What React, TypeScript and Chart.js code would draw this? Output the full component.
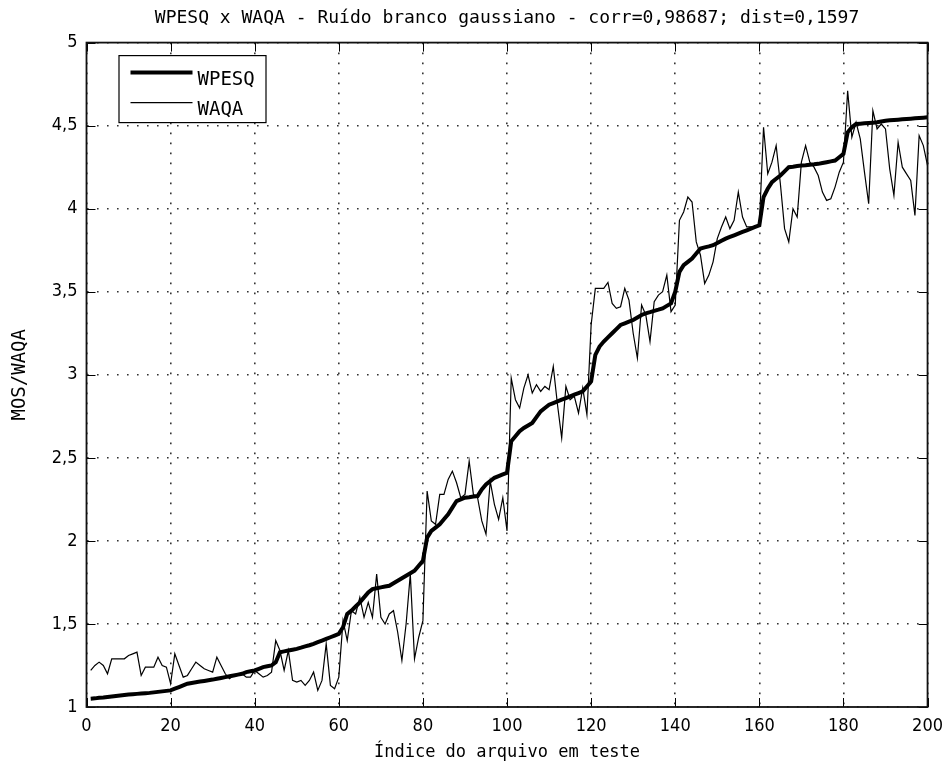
import React, { useEffect, useRef } from 'react';
import { Chart, registerables } from 'chart.js';

Chart.register(...registerables);

// Test file index (1..200) on the horizontal axis
const fileIndex: number[] = Array.from({ length: 200 }, (_, i) => i + 1);

// Objective WPESQ score per file (sorted by degradation level)
const wpesq: number[] = [
  1.05, 1.052, 1.055, 1.057, 1.06, 1.063, 1.066, 1.069, 1.072, 1.075,
  1.077, 1.079, 1.081, 1.083, 1.085, 1.088, 1.091, 1.094, 1.097, 1.1,
  1.11, 1.12, 1.13, 1.14, 1.145, 1.149, 1.153, 1.157, 1.161, 1.165,
  1.17, 1.175, 1.18, 1.185, 1.19, 1.195, 1.2, 1.21, 1.215, 1.22,
  1.23, 1.24, 1.245, 1.25, 1.27, 1.33, 1.335, 1.34, 1.345, 1.35,
  1.357, 1.365, 1.372, 1.38, 1.39, 1.4, 1.41, 1.42, 1.43, 1.44,
  1.48, 1.56, 1.58, 1.605, 1.63, 1.66, 1.69, 1.71, 1.715, 1.72,
  1.725, 1.73, 1.745, 1.76, 1.775, 1.79, 1.805, 1.82, 1.85, 1.88,
  2.02, 2.06, 2.08, 2.1, 2.13, 2.16, 2.2, 2.24, 2.25, 2.26,
  2.263, 2.267, 2.27, 2.31, 2.34, 2.36, 2.38, 2.39, 2.4, 2.41,
  2.6, 2.63, 2.66, 2.68, 2.695, 2.71, 2.745, 2.78, 2.8, 2.82,
  2.83, 2.84, 2.85, 2.86, 2.87, 2.88, 2.89, 2.9, 2.93, 2.96,
  3.12, 3.17, 3.2, 3.225, 3.25, 3.275, 3.3, 3.31, 3.32, 3.33,
  3.345, 3.36, 3.37, 3.377, 3.385, 3.392, 3.4, 3.415, 3.43, 3.5,
  3.62, 3.66, 3.68, 3.7, 3.73, 3.76, 3.767, 3.773, 3.78, 3.793,
  3.807, 3.82, 3.83, 3.84, 3.85, 3.86, 3.87, 3.88, 3.89, 3.9,
  4.07, 4.12, 4.16, 4.18, 4.2, 4.225, 4.25, 4.253, 4.257, 4.26,
  4.262, 4.265, 4.267, 4.27, 4.275, 4.28, 4.285, 4.29, 4.31, 4.33,
  4.46, 4.49, 4.51, 4.512, 4.514, 4.516, 4.518, 4.52, 4.525, 4.53,
  4.532, 4.534, 4.536, 4.538, 4.54, 4.542, 4.544, 4.546, 4.548, 4.55,
];

// WAQA estimate for the same files
const waqa: number[] = [
  1.22, 1.25, 1.27, 1.25, 1.2, 1.29, 1.29, 1.29, 1.29, 1.31,
  1.32, 1.33, 1.19, 1.24, 1.24, 1.24, 1.3, 1.25, 1.24, 1.14,
  1.32, 1.25, 1.18, 1.19, 1.23, 1.27, 1.25, 1.23, 1.22, 1.21,
  1.3, 1.25, 1.2, 1.17, 1.19, 1.19, 1.2, 1.18, 1.18, 1.22,
  1.2, 1.18, 1.19, 1.21, 1.4, 1.34, 1.22, 1.34, 1.16, 1.15,
  1.16, 1.13, 1.16, 1.21, 1.1, 1.16, 1.38, 1.13, 1.11, 1.18,
  1.52, 1.4, 1.58, 1.56, 1.66, 1.54, 1.63, 1.54, 1.8, 1.54,
  1.5, 1.56, 1.58, 1.45, 1.28, 1.5, 1.8, 1.29, 1.42, 1.52,
  2.3, 2.12, 2.1, 2.28, 2.28, 2.37, 2.42, 2.35, 2.26, 2.28,
  2.48, 2.28, 2.26, 2.12, 2.04, 2.36, 2.22, 2.13, 2.26, 2.06,
  2.98, 2.85, 2.8, 2.92, 3.0, 2.89, 2.94, 2.9, 2.93, 2.91,
  3.05, 2.82, 2.62, 2.93, 2.85, 2.87, 2.77, 2.92, 2.76, 3.3,
  3.52, 3.52, 3.52, 3.556, 3.43, 3.4, 3.41, 3.52, 3.45, 3.25,
  3.1, 3.42, 3.36, 3.2, 3.44, 3.48, 3.5, 3.6, 3.38, 3.42,
  3.93, 3.98, 4.07, 4.04, 3.8, 3.72, 3.55, 3.6, 3.68, 3.82,
  3.89, 3.95, 3.88, 3.93, 4.1, 3.95, 3.89, 3.89, 3.89, 3.9,
  4.49, 4.21, 4.28, 4.38, 4.15, 3.88, 3.8, 4.0, 3.95, 4.28,
  4.38, 4.28, 4.25, 4.2, 4.1, 4.05, 4.06, 4.13, 4.22, 4.28,
  4.71, 4.43, 4.52, 4.42, 4.22, 4.03, 4.59, 4.48, 4.51, 4.48,
  4.24, 4.08, 4.4, 4.25, 4.21, 4.17, 3.96, 4.44, 4.38, 4.26,
];

const xTickValues: number[] = [0, 20, 40, 60, 80, 100, 120, 140, 160, 180, 200];
const xTickLabels: string[] = ['0', '20', '40', '60', '80', '100', '120', '140', '160', '180', '200'];
const yTickValues: number[] = [1, 1.5, 2, 2.5, 3, 3.5, 4, 4.5, 5];
const yTickLabels: string[] = ['1', '1,5', '2', '2,5', '3', '3,5', '4', '4,5', '5'];

const chartTitle = 'WPESQ x WAQA - Ruído branco gaussiano - corr=0,98687; dist=0,1597';
const xTitle = 'Índice do arquivo em teste';
const yTitle = 'MOS/WAQA';

const MONO = "'DejaVu Sans Mono', 'Liberation Mono', monospace";
const NARROW = "'Liberation Sans Narrow', 'DejaVu Sans Condensed', 'DejaVu Sans Mono', monospace";
const TICK_LEN = 9;

// Box around the axes, inward tick marks on all four sides, and the legend
const axesFramePlugin = {
  id: 'axesFrame',
  afterDatasetsDraw(chart: any) {
    const { ctx, chartArea, scales } = chart;
    const { left, right, top, bottom } = chartArea;
    ctx.save();
    ctx.strokeStyle = '#000';
    ctx.lineWidth = 1;
    ctx.beginPath();
    for (const v of xTickValues) {
      const x = Math.round(scales.x.getPixelForValue(v)) + 0.5;
      ctx.moveTo(x, bottom);
      ctx.lineTo(x, bottom - TICK_LEN);
      ctx.moveTo(x, top);
      ctx.lineTo(x, top + TICK_LEN);
    }
    for (const v of yTickValues) {
      const y = Math.round(scales.y.getPixelForValue(v)) + 0.5;
      ctx.moveTo(left, y);
      ctx.lineTo(left + TICK_LEN, y);
      ctx.moveTo(right, y);
      ctx.lineTo(right - TICK_LEN, y);
    }
    ctx.stroke();
    ctx.lineWidth = 1.8;
    ctx.strokeStyle = '#111';
    ctx.strokeRect(left, top, right - left, bottom - top);

    // legend in the upper-left corner of the axes
    const bx = left + 32;
    const by = top + 12.5;
    const bw = 147;
    const bh = 67;
    ctx.fillStyle = '#fff';
    ctx.fillRect(bx, by, bw, bh);
    ctx.lineWidth = 1.2;
    ctx.strokeStyle = '#000';
    ctx.strokeRect(bx + 0.5, by + 0.5, bw, bh);
    const rows = [17.5, 47.5];
    chart.data.datasets.forEach((ds: any, i: number) => {
      const ly = by + rows[i];
      ctx.beginPath();
      ctx.lineWidth = ds.borderWidth;
      ctx.strokeStyle = ds.borderColor;
      ctx.moveTo(bx + 12, ly);
      ctx.lineTo(bx + 74, ly);
      ctx.stroke();
      ctx.fillStyle = '#000';
      ctx.font = `19px ${MONO}`;
      ctx.textAlign = 'left';
      ctx.textBaseline = 'middle';
      ctx.fillText(ds.label, bx + 79, ly + 7);
    });
    ctx.restore();
  },
};

export default function App() {
  const canvasRef = useRef<HTMLCanvasElement | null>(null);

  useEffect(() => {
    document.body.style.margin = '0';
    const canvas = canvasRef.current;
    if (!canvas) return;
    const chart = new Chart(canvas, {
      type: 'line',
      data: {
        datasets: [
          {
            label: 'WPESQ',
            data: fileIndex.map((x, i) => ({ x, y: wpesq[i] })),
            borderColor: '#000',
            borderWidth: 4,
            pointRadius: 0,
            tension: 0,
            order: 1,
          },
          {
            label: 'WAQA',
            data: fileIndex.map((x, i) => ({ x, y: waqa[i] })),
            borderColor: '#000',
            borderWidth: 1.2,
            pointRadius: 0,
            tension: 0,
            order: 0,
          },
        ],
      },
      options: {
        animation: false,
        responsive: false,
        devicePixelRatio: 1,
        layout: { padding: { left: 0, right: 20.5, top: 0, bottom: 0 } },
        plugins: {
          legend: { display: false },
          tooltip: { enabled: false },
          title: {
            display: true,
            text: chartTitle,
            fullSize: false,
            color: '#000',
            font: { family: MONO, size: 18, weight: 'normal' },
            padding: { top: 8, bottom: 13 },
          },
        },
        scales: {
          x: {
            type: 'linear',
            min: 0,
            max: 200,
            afterBuildTicks: (scale: any) => {
              scale.ticks = xTickValues.map((value) => ({ value }));
            },
            afterFit: (scale: any) => {
              scale.height = 64;
            },
            ticks: {
              color: '#000',
              font: { family: NARROW, size: 18 },
              padding: 9,
              maxRotation: 0,
              autoSkip: false,
              callback: (value: any) => xTickLabels[xTickValues.indexOf(Number(value))] ?? '',
            },
            grid: {
              color: '#333',
              lineWidth: 1.6,
              drawTicks: false,
            },
            border: { display: false, dash: [1.6, 8.4] },
            title: {
              display: true,
              text: xTitle,
              color: '#000',
              font: { family: MONO, size: 17 },
              padding: { top: 0, bottom: 8 },
            },
          },
          y: {
            type: 'linear',
            min: 1,
            max: 5,
            afterBuildTicks: (scale: any) => {
              scale.ticks = yTickValues.map((value) => ({ value }));
            },
            afterFit: (scale: any) => {
              scale.width = 86.5;
            },
            ticks: {
              color: '#000',
              font: { family: NARROW, size: 18 },
              padding: 9,
              autoSkip: false,
              callback: (value: any) => yTickLabels[yTickValues.indexOf(Number(value))] ?? '',
            },
            grid: {
              color: '#333',
              lineWidth: 1.6,
              drawTicks: false,
            },
            border: { display: false, dash: [1.6, 8.4] },
            title: {
              display: true,
              text: yTitle,
              color: '#000',
              font: { family: MONO, size: 19 },
              padding: { top: 9, bottom: 0 },
            },
          },
        },
      },
      plugins: [axesFramePlugin],
    });
    return () => chart.destroy();
  }, []);

  return (
    <div style={{ width: 952, height: 771, background: '#fff' }}>
      <canvas ref={canvasRef} width={952} height={771} style={{ display: 'block' }} />
    </div>
  );
}
